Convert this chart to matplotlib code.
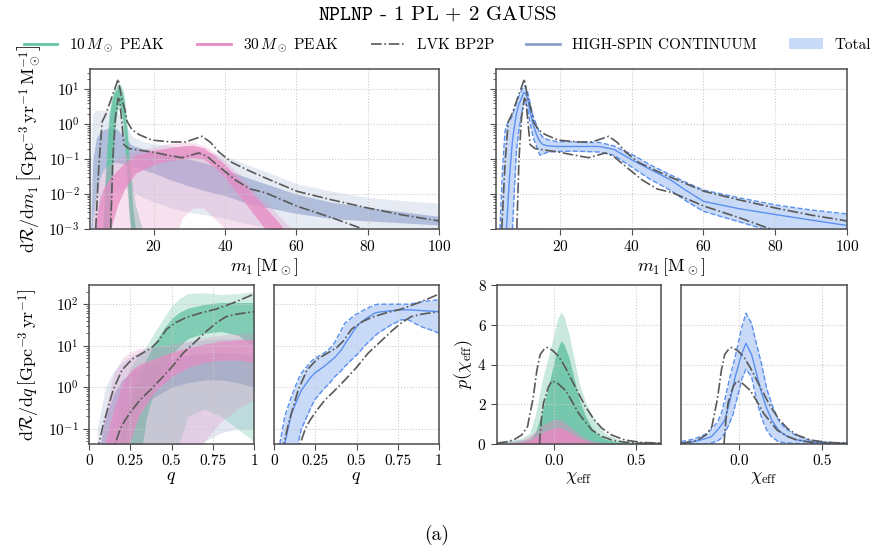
import numpy as np
import matplotlib
matplotlib.use("Agg")
import matplotlib.pyplot as plt
from matplotlib.lines import Line2D
from matplotlib.patches import Patch

plt.rcParams['font.family'] = 'serif'
plt.rcParams['font.serif'] = ['cmr10']
plt.rcParams['mathtext.fontset'] = 'cm'
plt.rcParams['axes.formatter.use_mathtext'] = True
plt.rcParams['axes.unicode_minus'] = False

# ---------------- primary mass m1 ----------------
m_lvk_hi = [3.5, 3.8, 4.7, 5.6, 6.6, 8.0, 10.1, 11.0, 12.0, 12.6, 14.0, 16.0, 19.6, 25.0, 29.0, 33.6, 36.0, 38.3, 42.0, 47.1, 51.3, 60.2, 70.0, 80.0, 90.0, 100.0]
r_lvk_hi = [1e-4, 1e-3, 0.07, 1.17, 1.9, 4.8, 19.6, 6.0, 2.5, 1.2, 0.69, 0.5, 0.35, 0.31, 0.31, 0.45, 0.3, 0.16, 0.08, 0.045, 0.029, 0.012, 0.0068, 0.004, 0.0025, 0.0017]
m_lvk_lo = [7.9, 8.0, 8.6, 9.3, 10.1, 10.5, 11.0, 11.7, 13.1, 16.0, 19.6, 24.0, 28.0, 32.7, 35.0, 38.3, 43.0, 47.1, 51.3, 60.2, 70.0, 78.7, 85.0]
r_lvk_lo = [1e-4, 1e-3, 0.1, 1.5, 5.5, 5.0, 1.5, 0.26, 0.2, 0.18, 0.16, 0.13, 0.11, 0.15, 0.12, 0.062, 0.025, 0.014, 0.011, 0.0045, 0.0021, 0.001, 0.0005]

m_green = [5.0, 5.6, 6.0, 6.6, 7.0, 7.5, 8.0, 8.5, 9.0, 9.5, 10.0, 10.3, 10.8, 11.6, 12.1, 12.6, 13.0, 13.5, 14.2, 14.9, 16.0, 16.8, 18.0]
green_m_hi = [1e-4, 1e-3, 0.008, 0.07, 0.4, 1.9, 4.5, 7.5, 10, 12, 14, 15, 13, 8.5, 3.5, 0.95, 0.3, 0.07, 0.015, 0.005, 0.002, 1e-3, 1e-4]
green_m_lo = [1e-4, 1e-4, 1e-4, 1e-4, 1e-4, 1e-4, 1e-3, 0.02, 0.3, 1.2, 2.5, 2.8, 2.0, 0.5, 0.1, 0.015, 0.003, 1e-3, 1e-4, 1e-4, 1e-4, 1e-4, 1e-4]
green_m_core_hi = [1e-4, 1e-4, 2e-3, 0.03, 0.2, 1.0, 3.0, 5.5, 8.0, 10, 12, 12.5, 11, 6.0, 2.2, 0.55, 0.15, 0.03, 4e-3, 1e-3, 1e-4, 1e-4, 1e-4]
green_m_core_lo = [1e-4, 1e-4, 1e-4, 1e-4, 1e-4, 1e-4, 5e-3, 0.08, 0.7, 2.0, 3.5, 4.0, 3.0, 1.0, 0.22, 0.035, 0.007, 0.0015, 1e-4, 1e-4, 1e-4, 1e-4, 1e-4]

m_pink = [3, 4, 5, 6, 8, 10, 12, 15, 20, 24, 28, 31, 34, 37, 40, 43, 46, 49, 52, 55, 58, 61]
pink_m_hi = [0.002, 0.012, 0.03, 0.05, 0.075, 0.1, 0.13, 0.18, 0.22, 0.28, 0.3, 0.3, 0.25, 0.16, 0.09, 0.045, 0.022, 0.01, 0.005, 0.0025, 0.0012, 5e-4]
pink_m_lo = [1e-4, 1e-4, 1e-4, 1e-4, 1e-4, 1e-4, 1e-4, 1e-4, 1e-4, 1e-4, 0.002, 0.004, 0.004, 0.002, 1e-3, 1e-4, 1e-4, 1e-4, 1e-4, 1e-4, 1e-4, 1e-4]
pink_m_core_hi = [1e-4, 0.002, 0.008, 0.015, 0.03, 0.05, 0.08, 0.13, 0.18, 0.21, 0.24, 0.25, 0.21, 0.13, 0.07, 0.033, 0.016, 0.0075, 0.0035, 0.0016, 6e-4, 1e-4]
pink_m_core_lo = [1e-4, 1e-4, 1e-4, 1e-4, 0.001, 0.005, 0.015, 0.04, 0.07, 0.09, 0.1, 0.11, 0.1, 0.06, 0.03, 0.012, 0.005, 0.002, 8e-4, 2e-4, 1e-4, 1e-4]

m_blue = [2.3, 2.6, 3, 4, 5, 6, 8, 10, 12, 14, 17, 20, 25, 30, 35, 40, 45, 50, 60, 70, 80, 90, 100]
blue_m_hi = [0.01, 0.5, 2.0, 2.5, 2.5, 2.5, 2.5, 2.0, 1.0, 0.45, 0.32, 0.28, 0.24, 0.2, 0.16, 0.12, 0.08, 0.05, 0.02, 0.012, 0.008, 0.0065, 0.0055]
blue_m_lo = [1e-4, 1e-4, 1e-4, 1e-4, 1e-3, 0.005, 0.01, 0.015, 0.015, 0.012, 0.008, 0.006, 0.004, 0.003, 0.0025, 0.002, 0.0015, 0.0012, 0.001, 8e-4, 6e-4, 5e-4, 4e-4]
blue_m_core_hi = [1e-4, 0.005, 0.1, 0.4, 0.6, 0.7, 0.8, 0.7, 0.4, 0.25, 0.2, 0.17, 0.13, 0.1, 0.075, 0.05, 0.033, 0.022, 0.01, 0.0058, 0.0042, 0.0031, 0.0023]
blue_m_core_lo = [1e-4, 1e-4, 0.002, 0.01, 0.03, 0.05, 0.08, 0.08, 0.07, 0.06, 0.05, 0.04, 0.025, 0.017, 0.012, 0.009, 0.006, 0.0045, 0.0028, 0.002, 0.0017, 0.0015, 0.0013]

m_tot = [3.3, 4.0, 4.7, 5.1, 6.0, 6.5, 6.8, 7.4, 7.9, 8.5, 9.3, 9.8, 10.3, 11.0, 11.6, 12.6, 13.5, 14.4, 15.3, 16.7, 19.0, 23.7, 27.0, 31.0, 35.0, 40.5, 45.0, 50.7, 55.0, 60.0, 70.0, 80.0, 90.0, 100.0]
tot_m_med = [1e-5, 1e-5, 1e-5, 1e-3, 0.035, 0.15, 0.35, 0.95, 2.0, 3.5, 5.5, 7.7, 8.0, 5.5, 2.5, 0.95, 0.5, 0.32, 0.26, 0.24, 0.23, 0.23, 0.23, 0.23, 0.19, 0.09, 0.052, 0.026, 0.013, 0.0062, 0.0038, 0.0026, 0.0018, 0.00126]
tot_m_hi = [1e-3, 0.05, 0.6, 0.9, 1.3, 1.5, 1.8, 2.8, 4.0, 6.0, 9.0, 12, 12.5, 8.5, 4.5, 1.6, 0.95, 0.55, 0.42, 0.36, 0.32, 0.31, 0.3, 0.3, 0.24, 0.13, 0.07, 0.036, 0.022, 0.013, 0.0078, 0.0049, 0.0035, 0.0027]
tot_m_lo = [1e-5, 1e-5, 1e-5, 1e-5, 1e-5, 1e-5, 1e-3, 0.02, 0.17, 0.6, 1.9, 3.5, 4.9, 2.8, 1.2, 0.4, 0.23, 0.13, 0.14, 0.16, 0.165, 0.17, 0.165, 0.16, 0.13, 0.055, 0.027, 0.013, 0.0065, 0.0032, 0.0016, 8e-4, 5e-4, 3e-4]

# ---------------- mass ratio q ----------------
q_lvk_hi = [0.05, 0.06, 0.085, 0.117, 0.147, 0.2, 0.26, 0.32, 0.38, 0.42, 0.47, 0.53, 0.59, 0.68, 0.77, 0.88, 1.0]
r_q_lvk_hi = [0.01, 0.043, 0.12, 0.34, 0.87, 2.6, 4.7, 6.5, 9.0, 13, 25, 37, 48, 62, 76, 110, 175]
q_lvk_lo = [0.15, 0.158, 0.19, 0.218, 0.26, 0.31, 0.37, 0.43, 0.5, 0.57, 0.64, 0.71, 0.77, 0.83, 0.9, 1.0]
r_q_lvk_lo = [0.02, 0.043, 0.1, 0.16, 0.28, 0.5, 0.85, 1.5, 3.0, 6.6, 12, 22, 35, 50, 58, 66]

q_green = [0.15, 0.2, 0.25, 0.3, 0.35, 0.4, 0.45, 0.5, 0.55, 0.6, 0.7, 0.8, 0.9, 1.0]
green_q_hi = [0.05, 0.8, 3.0, 6.0, 10, 22, 45, 90, 140, 180, 190, 170, 180, 200]
green_q_lo = [0.01, 0.01, 0.01, 0.01, 0.01, 0.01, 0.01, 0.01, 0.05, 0.2, 0.3, 0.2, 0.1, 0.05]
green_q_core_hi = [0.01, 0.1, 0.5, 2.0, 5.0, 12, 25, 45, 65, 80, 100, 110, 110, 110]
green_q_core_lo = [0.01, 0.01, 0.01, 0.01, 0.2, 1.0, 3.0, 6.0, 10, 15, 20, 22, 18, 10]

q_pb = [0.05, 0.1, 0.15, 0.2, 0.25, 0.3, 0.4, 0.5, 0.6, 0.7, 0.8, 0.9, 1.0]
pink_q_hi = [0.01, 0.3, 2.0, 5.0, 7.0, 8.5, 9.5, 11, 13, 16, 18, 20, 20]
pink_q_lo = [0.01, 0.01, 0.01, 0.01, 0.01, 0.01, 0.01, 0.01, 0.01, 0.05, 0.15, 0.3, 0.5]
pink_q_core_hi = [0.01, 0.05, 0.3, 1.2, 2.5, 3.5, 5.0, 7.0, 9.0, 11, 13, 14, 14]
pink_q_core_lo = [0.01, 0.01, 0.01, 0.01, 0.05, 0.2, 0.8, 1.8, 3.0, 4.0, 4.5, 4.5, 4.0]
blue_q_hi = [0.1, 1.0, 2.5, 4.0, 5.5, 7.0, 9.0, 10, 12, 14, 15, 15, 15]
blue_q_lo = [0.01, 0.01, 0.01, 0.01, 0.01, 0.01, 0.01, 0.01, 0.01, 0.05, 0.08, 0.1, 0.1]
blue_q_core_hi = [0.02, 0.2, 0.7, 1.5, 2.2, 3.0, 4.0, 5.0, 6.0, 6.5, 7.0, 6.5, 6.0]
blue_q_core_lo = [0.01, 0.01, 0.01, 0.05, 0.15, 0.3, 0.6, 1.0, 1.3, 1.5, 1.5, 1.3, 1.0]

q_tot = [0.035, 0.065, 0.105, 0.145, 0.166, 0.226, 0.247, 0.3, 0.34, 0.368, 0.408, 0.43, 0.49, 0.51, 0.55, 0.61, 0.63, 0.7, 0.77, 0.81, 0.85, 0.9, 0.95, 1.0]
tot_q_med = [0.01, 0.043, 0.23, 0.55, 0.85, 1.8, 2.2, 3.1, 4.2, 5.2, 7.9, 11, 25, 32, 43, 61, 64, 69, 73, 73, 72, 70, 68, 66]
tot_q_hi = [0.043, 0.2, 0.59, 1.5, 2.2, 4.2, 5.0, 6.5, 8.7, 12, 24, 35, 55, 60, 75, 96, 100, 100, 100, 100, 105, 115, 122, 127]
tot_q_lo = [0.001, 0.003, 0.01, 0.043, 0.1, 0.34, 0.5, 0.9, 1.3, 1.8, 2.5, 3.2, 5.5, 6.5, 10, 17, 20, 30, 42, 43, 35, 28, 24, 20]

# ---------------- effective spin chi_eff ----------------
x_lvk_hi = [-0.35, -0.3, -0.25, -0.2, -0.164, -0.13, -0.107, -0.087, -0.06, -0.042, -0.01, 0.027, 0.07, 0.107, 0.15, 0.188, 0.24, 0.29, 0.35, 0.43, 0.53, 0.65]
p_lvk_hi = [0.03, 0.1, 0.2, 0.45, 0.87, 2.3, 3.7, 4.5, 4.8, 4.86, 4.7, 4.4, 3.8, 3.2, 2.5, 1.9, 1.25, 0.79, 0.45, 0.2, 0.08, 0.04]
x_lvk_lo = [-0.091, -0.08, -0.067, -0.036, -0.014, 0.02, 0.067, 0.1, 0.148, 0.19, 0.229, 0.29, 0.35, 0.42, 0.49, 0.65]
p_lvk_lo = [0.0, 1.2, 2.05, 2.88, 3.18, 3.05, 2.7, 2.25, 1.54, 1.1, 0.7, 0.38, 0.2, 0.1, 0.05, 0.02]

x_chi = [-0.35, -0.3, -0.25, -0.2, -0.15, -0.115, -0.075, -0.04, 0.0, 0.02, 0.04, 0.06, 0.09, 0.12, 0.15, 0.19, 0.23, 0.27, 0.31, 0.4, 0.5, 0.65]
green_x_hi = [0.12, 0.16, 0.2, 0.3, 0.55, 1.5, 3.2, 4.3, 5.6, 6.3, 6.65, 6.4, 5.5, 4.3, 3.1, 2.1, 1.45, 0.9, 0.54, 0.2, 0.1, 0.06]
green_x_core_hi = [0.03, 0.05, 0.08, 0.12, 0.25, 0.6, 1.6, 2.8, 4.2, 4.8, 5.2, 5.0, 4.3, 3.3, 2.3, 1.4, 0.8, 0.45, 0.25, 0.08, 0.04, 0.02]
pink_x_hi = [0.05, 0.08, 0.12, 0.2, 0.4, 0.65, 0.95, 1.1, 1.25, 1.25, 1.2, 1.1, 0.9, 0.7, 0.5, 0.3, 0.17, 0.1, 0.06, 0.02, 0.01, 0.0]
pink_x_core_hi = [0.02, 0.03, 0.05, 0.1, 0.2, 0.35, 0.55, 0.7, 0.8, 0.82, 0.8, 0.72, 0.6, 0.45, 0.3, 0.16, 0.08, 0.04, 0.02, 0.01, 0, 0]
blue_x_hi = [0.15, 0.18, 0.2, 0.22, 0.25, 0.28, 0.32, 0.36, 0.4, 0.4, 0.4, 0.38, 0.35, 0.32, 0.3, 0.26, 0.22, 0.18, 0.15, 0.1, 0.07, 0.05]
blue_x_core_hi = [0.05, 0.06, 0.07, 0.08, 0.1, 0.12, 0.14, 0.16, 0.18, 0.18, 0.18, 0.18, 0.17, 0.16, 0.14, 0.12, 0.1, 0.08, 0.06, 0.04, 0.03, 0.02]

x_tot = [-0.35, -0.27, -0.19, -0.167, -0.13, -0.107, -0.087, -0.06, -0.036, -0.026, 0.004, 0.014, 0.041, 0.075, 0.085, 0.115, 0.136, 0.166, 0.197, 0.237, 0.277, 0.338, 0.42, 0.46, 0.55, 0.65]
tot_x_med = [0.03, 0.12, 0.3, 0.37, 0.7, 0.95, 1.2, 2.0, 2.9, 3.3, 4.2, 4.5, 5.07, 4.5, 4.2, 3.2, 2.55, 1.8, 1.2, 0.7, 0.45, 0.22, 0.12, 0.08, 0.05, 0.03]
tot_x_hi = [0.12, 0.25, 0.54, 0.75, 1.1, 1.54, 2.2, 3.2, 4.0, 4.3, 5.4, 5.8, 6.58, 6.07, 5.7, 4.7, 4.0, 2.8, 2.0, 1.2, 0.8, 0.45, 0.2, 0.15, 0.08, 0.05]
tot_x_lo = [0, 0, 0.02, 0.05, 0.15, 0.3, 0.54, 1.0, 1.5, 1.88, 2.8, 3.22, 3.76, 3.39, 3.0, 1.88, 1.3, 0.7, 0.35, 0.12, 0.06, 0.03, 0.02, 0.01, 0, 0]

GREEN = '#66c2a5'
PINK = '#e78ac3'
BLUE = '#8da0cb'
TOT = '#5b8ff0'
TOT_FILL = '#c8daf7'
LVK = '0.35'


def band(ax, x, lo, hi, c_lo, c_hi, color, a_out=0.25, a_in=0.7):
    ax.fill_between(x, lo, hi, color=color, alpha=a_out, lw=0)
    ax.fill_between(x, c_lo, c_hi, color=color, alpha=a_in, lw=0)


def total(ax, x, lo, med, hi):
    ax.fill_between(x, lo, hi, color=TOT_FILL, lw=0)
    ax.plot(x, lo, '--', color=TOT, lw=1)
    ax.plot(x, hi, '--', color=TOT, lw=1)
    ax.plot(x, med, '-', color=TOT, lw=1)


def lvk(ax, x1, y1, x2, y2):
    ax.plot(x1, y1, '-.', color=LVK, lw=1.2)
    ax.plot(x2, y2, '-.', color=LVK, lw=1.2)


def style(ax):
    ax.grid(True, which='major', ls=':', color='0.8', lw=0.8)
    for s in ax.spines.values():
        s.set_color('0.3')
        s.set_linewidth(1.1)
    ax.tick_params(which='both', direction='out', labelsize=11, color='0.3')
    ax.tick_params(which='major', length=4)
    ax.tick_params(which='minor', length=2)


fig = plt.figure(figsize=(8.74, 5.56), dpi=100)
W, H = 874.0, 556.0


def add_ax(x0, y0, x1, y1):
    return fig.add_axes([x0 / W, 1 - y1 / H, (x1 - x0) / W, (y1 - y0) / H])


ax1 = add_ax(90, 69, 439, 229)
ax2 = add_ax(496, 69, 847, 229)
ax3 = add_ax(89, 285, 254, 444)
ax4 = add_ax(274, 285, 439, 444)
ax5 = add_ax(497, 285, 661, 444)
ax6 = add_ax(681, 285, 847, 444)

# m1 panels
band(ax1, m_blue, blue_m_lo, blue_m_hi, blue_m_core_lo, blue_m_core_hi, BLUE, 0.22, 0.6)
band(ax1, m_green, green_m_lo, green_m_hi, green_m_core_lo, green_m_core_hi, GREEN, 0.45, 0.85)
band(ax1, m_pink, pink_m_lo, pink_m_hi, pink_m_core_lo, pink_m_core_hi, PINK, 0.25, 0.75)
lvk(ax1, m_lvk_hi, r_lvk_hi, m_lvk_lo, r_lvk_lo)
total(ax2, m_tot, tot_m_lo, tot_m_med, tot_m_hi)
lvk(ax2, m_lvk_hi, r_lvk_hi, m_lvk_lo, r_lvk_lo)
for ax in (ax1, ax2):
    ax.set_yscale('log')
    ax.set_xlim(2.2, 100)
    ax.set_ylim(1e-3, 38)
    ax.set_xticks([20, 40, 60, 80, 100])
    ax.set_xlabel(r'$m_1\,[\mathrm{M}_\odot]$', fontsize=13, labelpad=1)
    style(ax)
ax2.tick_params(labelleft=False)
ax1.set_ylabel(r'$\mathrm{d}\mathcal{R}/\mathrm{d}m_1\,\left[\mathrm{Gpc}^{-3}\,\mathrm{yr}^{-1}\,\mathrm{M}_\odot^{-1}\right]$', fontsize=13)

# q panels
band(ax3, q_pb, blue_q_lo, blue_q_hi, blue_q_core_lo, blue_q_core_hi, BLUE, 0.25, 0.6)
band(ax3, q_green, green_q_lo, green_q_hi, green_q_core_lo, green_q_core_hi, GREEN, 0.3, 0.75)
band(ax3, q_pb, pink_q_lo, pink_q_hi, pink_q_core_lo, pink_q_core_hi, PINK, 0.25, 0.7)
lvk(ax3, q_lvk_hi, r_q_lvk_hi, q_lvk_lo, r_q_lvk_lo)
total(ax4, q_tot, tot_q_lo, tot_q_med, tot_q_hi)
lvk(ax4, q_lvk_hi, r_q_lvk_hi, q_lvk_lo, r_q_lvk_lo)
for ax in (ax3, ax4):
    ax.set_yscale('log')
    ax.set_xlim(0, 1)
    ax.set_ylim(0.043, 290)
    ax.set_xticks([0, 0.25, 0.5, 0.75, 1])
    ax.set_xticklabels(['0', '0.25', '0.5', '0.75', '1'])
    ax.set_xlabel(r'$q$', fontsize=13, labelpad=1)
    style(ax)
ax4.tick_params(which='both', left=False, labelleft=False)
ax3.set_ylabel(r'$\mathrm{d}\mathcal{R}/\mathrm{d}q\,\left[\mathrm{Gpc}^{-3}\,\mathrm{yr}^{-1}\right]$', fontsize=13)

# chi_eff panels
ax5.fill_between(x_chi, blue_x_hi, color=BLUE, alpha=0.3, lw=0)
ax5.fill_between(x_chi, blue_x_core_hi, color=BLUE, alpha=0.7, lw=0)
ax5.fill_between(x_chi, green_x_hi, color=GREEN, alpha=0.35, lw=0)
ax5.fill_between(x_chi, green_x_core_hi, color=GREEN, alpha=0.85, lw=0)
ax5.fill_between(x_chi, pink_x_hi, color=PINK, alpha=0.45, lw=0)
ax5.fill_between(x_chi, pink_x_core_hi, color=PINK, alpha=0.85, lw=0)
lvk(ax5, x_lvk_hi, p_lvk_hi, x_lvk_lo, p_lvk_lo)
total(ax6, x_tot, tot_x_lo, tot_x_med, tot_x_hi)
lvk(ax6, x_lvk_hi, p_lvk_hi, x_lvk_lo, p_lvk_lo)
for ax in (ax5, ax6):
    ax.set_xlim(-0.35, 0.65)
    ax.set_ylim(0, 8)
    ax.set_xticks([0.0, 0.5])
    ax.set_xticklabels(['0.0', '0.5'])
    ax.set_yticks([0, 2, 4, 6, 8])
    ax.set_xlabel(r'$\chi_\mathrm{eff}$', fontsize=13, labelpad=1)
    style(ax)
ax6.tick_params(which='both', left=False, labelleft=False)
ax5.set_ylabel(r'$p(\chi_\mathrm{eff})$', fontsize=13, labelpad=2)

handles = [Line2D([], [], color=GREEN, lw=2),
           Line2D([], [], color=PINK, lw=2),
           Line2D([], [], color=LVK, lw=1.2, ls='-.'),
           Line2D([], [], color=BLUE, lw=2),
           Patch(facecolor=TOT_FILL, edgecolor='none')]
labels = [r'$10\,M_\odot$ PEAK', r'$30\,M_\odot$ PEAK', 'LVK BP2P', 'HIGH-SPIN CONTINUUM', 'Total']
fig.legend(handles, labels, loc='center', bbox_to_anchor=(0.512, 0.918), ncol=5,
           frameon=False, fontsize=11, handlelength=2.2, columnspacing=2.1, handletextpad=0.8)

fig.text(0.5, 0.975, r'$\mathtt{NPLNP}$ - 1 PL + 2 GAUSS', ha='center', va='center', fontsize=15)
fig.text(0.5, 0.037, '(a)', ha='center', va='center', fontsize=14)

fig.savefig('out.png', dpi=100)
